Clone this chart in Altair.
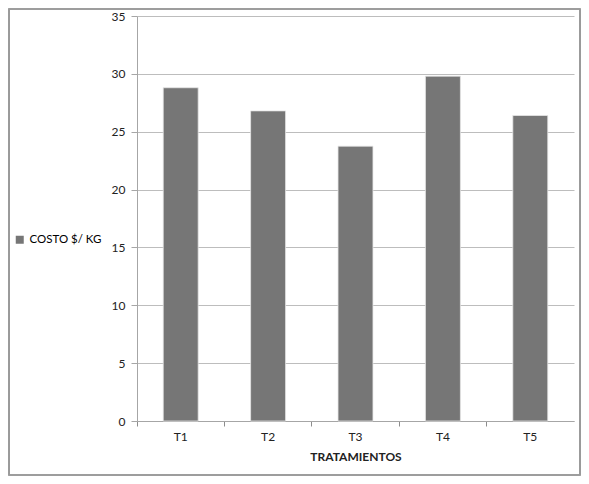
import altair as alt
import pandas as pd

categories = ["T1", "T2", "T3", "T4", "T5"]
values = [28.8, 26.8, 23.75, 29.8, 26.4]
series_name = "COSTO $/ KG"
y_ticks = [0, 5, 10, 15, 20, 25, 30, 35]

df = pd.DataFrame({"TRATAMIENTOS": categories, "valor": values, "serie": [series_name] * len(categories)})

FONT = "Lato"
W, H = 437, 405

bars = alt.Chart(df).mark_bar(color="#767676", stroke="#e6e6e6", strokeWidth=0.8,
                              width=alt.RelativeBandSize(0.4)).encode(
    x=alt.X("TRATAMIENTOS:N", sort=categories,
            scale=alt.Scale(paddingInner=0, paddingOuter=0),
            axis=alt.Axis(title="TRATAMIENTOS", labelAngle=0, bandPosition=0,
                          tickSize=5, tickColor="#8c8c8c", tickWidth=1,
                          domainColor="#a6a6a6", labelPadding=5,
                          titleFontWeight="bold", titlePadding=9)),
    y=alt.Y("valor:Q", scale=alt.Scale(domain=[0, 35], nice=False),
            axis=alt.Axis(title=None, values=y_ticks, tickSize=6, tickColor="#a6a6a6",
                          domainColor="#a6a6a6", gridColor="#bdbdbd", labelPadding=6)),
    color=alt.Color("serie:N", scale=alt.Scale(range=["#767676"]),
                    legend=alt.Legend(title=None, orient="none", legendX=-123, legendY=218,
                                      symbolType="square", symbolSize=64,
                                      symbolStrokeWidth=0, labelFontSize=11.5, labelFont=FONT)),
)

frame = alt.Chart(df).mark_rect(filled=False, stroke="#9a9a9a", strokeWidth=1.2).encode(
    x=alt.value(-128), x2=alt.value(443), y=alt.value(-7), y2=alt.value(459)
)

chart = alt.layer(bars, frame).properties(
    width=W, height=H,
    autosize=alt.AutoSizeParams(type="none"),
    padding={"left": 129, "top": 8, "right": 7, "bottom": 55},
).configure_view(stroke=None).configure_axis(
    labelFont=FONT, titleFont=FONT, labelFontSize=12, titleFontSize=12,
    labelColor="#222222", titleColor="#222222", grid=True
).configure_axisX(grid=False)

chart.save("out.html", embed_options={"renderer": "svg", "actions": False})
